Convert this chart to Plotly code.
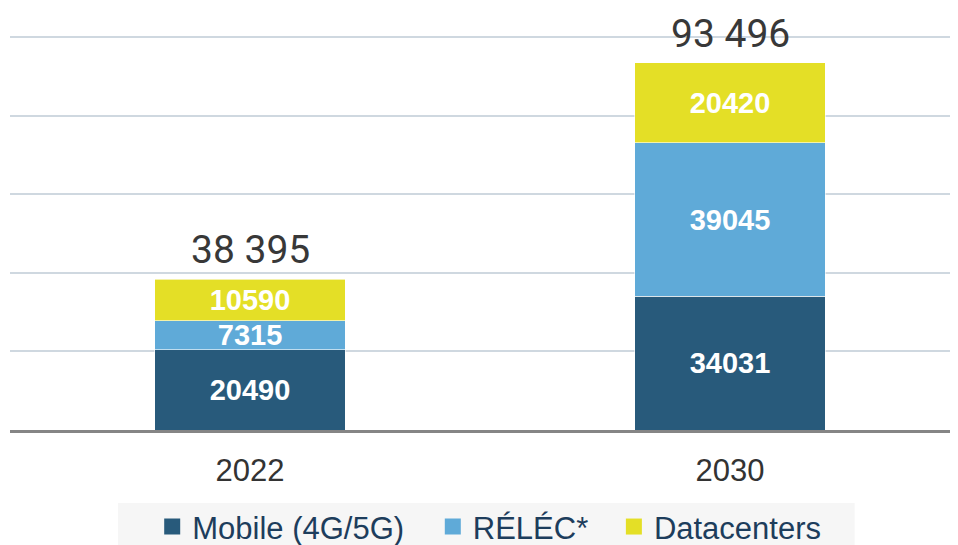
import plotly.graph_objects as go

years = ["2022", "2030"]
mobile = [20490, 34031]
relec = [7315, 39045]
datacenters = [10590, 20420]
totals_text = ["38 395", "93 496"]
series_names = ["Mobile (4G/5G)", "RÉLÉC*", "Datacenters"]
colors = ["#285a7b", "#5faad8", "#e4df26"]
legend_ids = ["legend", "legend2", "legend3"]
legend_x = [0.150, 0.446, 0.637]

fig = go.Figure()
for name, vals, col in zip(series_names, [mobile, relec, datacenters], colors):
    fig.add_trace(go.Bar(
        x=years, y=vals, name=name, showlegend=False,
        marker=dict(color=col, line=dict(color="rgba(255,255,255,0.6)", width=1)),
        width=0.396,
        text=[str(v) for v in vals], textposition="inside", insidetextanchor="middle",
        constraintext="none", cliponaxis=False,
        textfont=dict(family="Liberation Sans, Arial, sans-serif", size=29, color="white", weight="bold"),
        textangle=0,
    ))
# legend entries (square markers), one legend box per entry
for name, col, lid in zip(series_names, colors, legend_ids):
    fig.add_trace(go.Scatter(x=[None], y=[None], mode="markers", name=name, legend=lid,
                             marker=dict(symbol="square", size=17, color=col)))

totals = [a + b + c for a, b, c in zip(mobile, relec, datacenters)]
for i, (tot, txt) in enumerate(zip(totals, totals_text)):
    fig.add_annotation(x=i, y=tot, text=txt, showarrow=False, yanchor="bottom", yshift=5,
                       borderpad=0,
                       font=dict(family="Roboto, DejaVu Sans, sans-serif", size=39, color="#383838",
                                 weight=400))

fig.add_shape(type="rect", xref="paper", yref="paper", x0=0.114, x1=0.891, y0=-0.185, y1=-0.32,
              fillcolor="#f6f6f6", line=dict(width=0), layer="below")

legend_common = dict(orientation="h", xanchor="left", yref="container", y=0.084, yanchor="top",
                     bgcolor="rgba(0,0,0,0)", itemwidth=30,
                     font=dict(family="Liberation Sans, Arial, sans-serif", size=31, color="#1d3d5c"))

fig.update_layout(
    barmode="stack",
    width=950, height=537,
    margin=dict(l=2, r=0, t=28, b=115),
    paper_bgcolor="white", plot_bgcolor="rgba(0,0,0,0)",
    xaxis=dict(type="category", range=[-0.5, 1.475], showline=True, linecolor="#858585", linewidth=3,
               ticks="", ticklabelstandoff=11, showgrid=False,
               tickfont=dict(family="Liberation Sans, Arial, sans-serif", size=31, color="#333333")),
    yaxis=dict(range=[0, 100300], dtick=20000, showgrid=True, gridcolor="#cfd8e0", gridwidth=1.5,
               showticklabels=False, zeroline=False),
    legend=dict(x=legend_x[0], **legend_common),
    legend2=dict(x=legend_x[1], **legend_common),
    legend3=dict(x=legend_x[2], **legend_common),
    showlegend=True,
)

fig.write_html("out.html")
